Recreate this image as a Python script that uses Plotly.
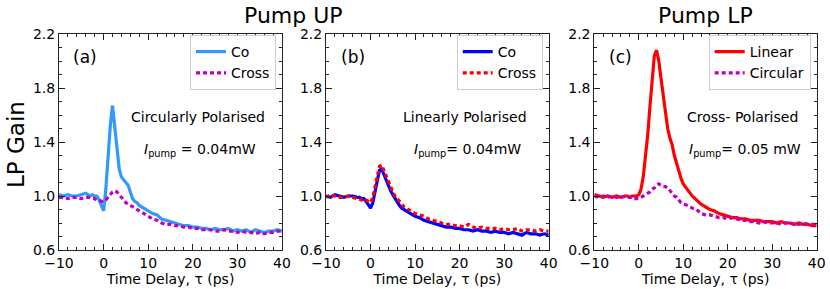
import plotly.graph_objects as go

W, H = 830, 289

# ---------------- data ----------------
t = [-10, -9, -8, -7, -6, -5, -4, -3, -2.5, -2, -1.5, -1, -0.5, 0, 0.5, 1, 1.5, 2, 2.5, 3,
     3.5, 4, 4.5, 5, 5.5, 6, 6.5, 7, 7.5, 8, 8.5, 9, 9.5, 10, 11, 12, 13, 14, 15, 16,
     17, 18, 19, 20, 21, 22, 23, 24, 25, 26, 27, 28, 29, 30, 31, 32, 33, 34, 35, 36,
     37, 38, 39, 40]

a_co = [1.01, 1.00, 1.01, 1.00, 1.00, 1.01, 1.02, 1.00, 1.01, 1.00, 1.00, 0.97, 0.93, 0.89, 1.05, 1.30, 1.52, 1.67, 1.50, 1.33,
        1.20, 1.14, 1.12, 1.10, 1.08, 1.03, 0.98, 0.96, 0.95, 0.93, 0.92, 0.91, 0.90, 0.89, 0.87, 0.86, 0.83, 0.82, 0.81, 0.80,
        0.79, 0.78, 0.78, 0.77, 0.77, 0.76, 0.76, 0.75, 0.76, 0.75, 0.75, 0.76, 0.74, 0.75, 0.74, 0.75, 0.73, 0.75, 0.74, 0.73,
        0.74, 0.74, 0.75, 0.74]
a_cross = [0.99, 0.99, 0.98, 0.99, 0.99, 0.98, 0.99, 0.99, 0.98, 0.98, 0.97, 0.97, 0.96, 0.96, 0.97, 0.99, 1.01, 1.03, 1.04, 1.03,
           1.01, 0.99, 0.97, 0.95, 0.94, 0.93, 0.92, 0.91, 0.90, 0.89, 0.88, 0.87, 0.86, 0.85, 0.83, 0.82, 0.80, 0.79, 0.79, 0.78,
           0.78, 0.77, 0.77, 0.76, 0.76, 0.75, 0.75, 0.75, 0.74, 0.74, 0.75, 0.74, 0.74, 0.73, 0.74, 0.73, 0.73, 0.72, 0.73, 0.72,
           0.73, 0.73, 0.74, 0.74]

b_co = [1.00, 0.99, 1.01, 1.00, 0.99, 1.00, 1.00, 0.99, 0.99, 0.98, 0.98, 0.96, 0.93, 0.91, 0.95, 1.03, 1.12, 1.19, 1.20, 1.16,
        1.11, 1.07, 1.04, 1.01, 0.98, 0.95, 0.93, 0.91, 0.90, 0.89, 0.88, 0.87, 0.86, 0.85, 0.84, 0.82, 0.81, 0.80, 0.79, 0.78,
        0.77, 0.77, 0.76, 0.76, 0.75, 0.75, 0.74, 0.75, 0.74, 0.74, 0.73, 0.74, 0.73, 0.73, 0.72, 0.73, 0.72, 0.71, 0.73, 0.72,
        0.72, 0.71, 0.72, 0.71]
b_cross = [0.99, 1.01, 1.00, 0.99, 0.99, 1.00, 0.99, 0.98, 0.98, 0.97, 0.98, 0.97, 0.96, 0.95, 0.99, 1.06, 1.15, 1.22, 1.23, 1.19,
           1.14, 1.10, 1.06, 1.03, 1.00, 0.98, 0.96, 0.94, 0.92, 0.91, 0.90, 0.89, 0.88, 0.87, 0.86, 0.85, 0.83, 0.82, 0.81, 0.80,
           0.79, 0.79, 0.78, 0.78, 0.77, 0.79, 0.77, 0.76, 0.77, 0.76, 0.76, 0.76, 0.75, 0.76, 0.75, 0.75, 0.76, 0.74, 0.75, 0.75,
           0.74, 0.75, 0.74, 0.74]

c_linear = [1.01, 1.00, 0.99, 1.00, 0.99, 1.00, 0.99, 1.00, 1.00, 0.99, 1.00, 1.00, 1.00, 1.01, 1.05, 1.14, 1.28, 1.45, 1.66, 1.87,
            2.04, 2.08, 2.00, 1.87, 1.74, 1.61, 1.50, 1.43, 1.38, 1.30, 1.24, 1.18, 1.13, 1.09, 1.04, 1.00, 0.97, 0.94, 0.92, 0.90,
            0.89, 0.87, 0.86, 0.85, 0.84, 0.84, 0.83, 0.83, 0.82, 0.82, 0.82, 0.81, 0.81, 0.81, 0.80, 0.81, 0.80, 0.80, 0.79, 0.80,
            0.79, 0.79, 0.78, 0.78]
c_circular = [1.00, 0.99, 1.00, 0.99, 1.00, 0.99, 0.99, 1.00, 0.99, 0.99, 0.99, 0.98, 0.98, 0.98, 0.99, 1.00, 1.01, 1.02, 1.03, 1.05,
              1.06, 1.08, 1.09, 1.08, 1.07, 1.07, 1.06, 1.04, 1.02, 1.00, 0.99, 0.97, 0.95, 0.94, 0.93, 0.91, 0.90, 0.87, 0.86, 0.86,
              0.85, 0.84, 0.84, 0.83, 0.84, 0.83, 0.82, 0.82, 0.81, 0.81, 0.80, 0.81, 0.80, 0.80, 0.80, 0.79, 0.80, 0.80, 0.79, 0.79,
              0.80, 0.79, 0.79, 0.79]

y_ticks = [0.6, 1.0, 1.4, 1.8, 2.2]
y_ticklabels = ["0.6", "1.0", "1.4", "1.8", "2.2"]
x_ticks = [-10, 0, 10, 20, 30, 40]

panels = [
    dict(letter="(a)", s1=a_co, s2=a_cross, n1="Co", n2="Cross", c1="#3399ff", c2="#bf00bf",
         pol="Circularly Polarised", pump="<i>I</i><sub>pump</sub> = 0.04mW"),
    dict(letter="(b)", s1=b_co, s2=b_cross, n1="Co", n2="Cross", c1="#0000ff", c2="#ff0000",
         pol="Linearly Polarised", pump="<i>I</i><sub>pump</sub>= 0.04mW"),
    dict(letter="(c)", s1=c_linear, s2=c_circular, n1="Linear", n2="Circular", c1="#ff0000", c2="#bf00bf",
         pol="Cross- Polarised", pump="<i>I</i><sub>pump</sub>= 0.05 mW"),
]

# ---------------- layout geometry (screen pixels) ----------------
px_left = [59, 326, 594.3]
px_right = [282, 548.7, 816.7]
px_top, px_bot = 34, 250
pol_right = [267, 529, 800]
pump_right = [258, 523, 803]
letter_left = [71, 339, 607]


def fx(px):
    return px / W


def fy(py):
    return 1 - py / H


FONT = "DejaVu Sans"
AX = "#222222"

fig = go.Figure()
layout = dict(template="none", width=W, height=H,
              margin=dict(l=0, r=0, t=0, b=0, pad=0, autoexpand=False),
              paper_bgcolor="white", plot_bgcolor="white", showlegend=True,
              font=dict(family=FONT, size=14, color="black"), annotations=[])

for i, p in enumerate(panels):
    k = "" if i == 0 else str(i + 1)
    leg = "legend" if i == 0 else f"legend{i + 1}"
    fig.add_trace(go.Scatter(x=t, y=p["s1"], mode="lines", name=p["n1"],
                             line=dict(color=p["c1"], width=3.2),
                             xaxis="x" + k, yaxis="y" + k, legend=leg))
    fig.add_trace(go.Scatter(x=t, y=p["s2"], mode="lines", name=p["n2"],
                             line=dict(color=p["c2"], width=3.2, dash="4px,3px"),
                             xaxis="x" + k, yaxis="y" + k, legend=leg))
    common = dict(showline=True, linecolor=AX, linewidth=1, mirror="allticks",
                  ticks="inside", ticklen=6, tickcolor=AX, tickwidth=1,
                  showgrid=False, zeroline=False, fixedrange=True, automargin=False,
                  tickfont=dict(family=FONT, size=14, color="black"))
    layout["xaxis" + k] = dict(common, domain=[fx(px_left[i]), fx(px_right[i])],
                               anchor="y" + k, range=[-10, 40], tickvals=x_ticks,
                               minor=dict(dtick=2, ticks="inside", ticklen=3, tickcolor=AX),
                               title=dict(text="Time Delay, τ (ps)", standoff=3,
                                          font=dict(family=FONT, size=14)))
    layout["yaxis" + k] = dict(common, domain=[fy(px_bot), fy(px_top)],
                               anchor="x" + k, range=[0.6, 2.2],
                               tickvals=y_ticks, ticktext=y_ticklabels,
                               minor=dict(dtick=0.1, ticks="inside", ticklen=3, tickcolor=AX))
    layout[leg] = dict(x=fx(px_right[i] - 6), y=fy(35), xanchor="right", yanchor="top",
                       bgcolor="white", bordercolor="#cccccc", borderwidth=1,
                       font=dict(family=FONT, size=14), itemwidth=30,
                       tracegroupgap=0)
    layout["annotations"] += [
        dict(text=p["letter"], x=fx(letter_left[i]), y=fy(57), xref="paper", yref="paper",
             xanchor="left", yanchor="middle", showarrow=False, font=dict(size=17)),
        dict(text=p["pol"], x=fx(pol_right[i]), y=fy(117), xref="paper", yref="paper",
             xanchor="right", yanchor="middle", showarrow=False, font=dict(size=14)),
        dict(text=p["pump"], x=fx(pump_right[i]), y=fy(150), xref="paper", yref="paper",
             xanchor="right", yanchor="middle", showarrow=False, font=dict(size=14)),
    ]

layout["annotations"] += [
    dict(text="Pump UP", x=fx(293), y=fy(16), xref="paper", yref="paper",
         xanchor="center", yanchor="middle", showarrow=False, font=dict(size=22)),
    dict(text="Pump LP", x=fx(705), y=fy(16), xref="paper", yref="paper",
         xanchor="center", yanchor="middle", showarrow=False, font=dict(size=22)),
    dict(text="LP Gain", x=fx(16), y=fy(145), xref="paper", yref="paper",
         xanchor="center", yanchor="middle", textangle=-90, showarrow=False, font=dict(size=23)),
]

fig.update_layout(**layout)
# remove the browser's default 8px body margin so the figure sits at the page corner
fig.write_html("out.html", config={"displayModeBar": False},
               post_script="document.body.style.margin='0';document.body.style.overflow='hidden';")
